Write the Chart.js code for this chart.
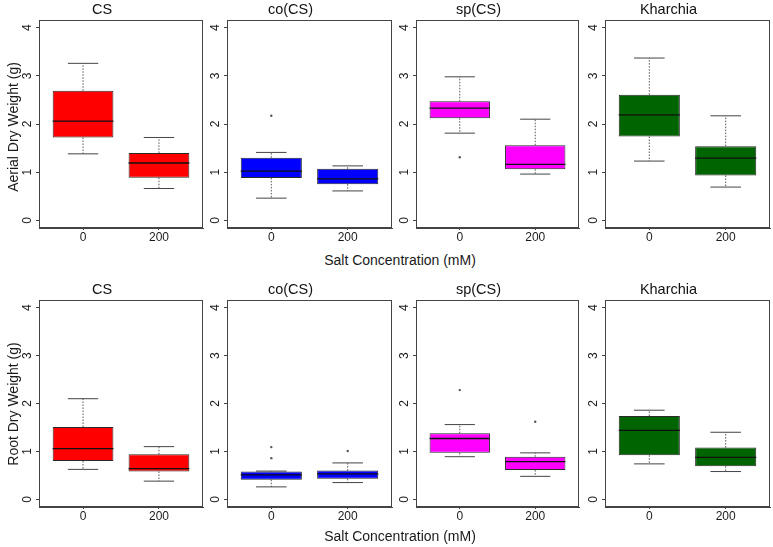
<!DOCTYPE html>
<html><head><meta charset="utf-8">
<script src="https://cdn.jsdelivr.net/npm/chart.js@4/dist/chart.umd.min.js"></script>
<style>
html,body{margin:0;padding:0;background:#fff;}
#wrap{position:relative;width:773px;height:547px;overflow:hidden;font-family:"Liberation Sans",Arial,sans-serif;background:#fff;}
.pc{position:absolute;}
.lbl{position:absolute;font-size:14px;line-height:16px;color:#1a1a1a;white-space:nowrap;transform:translate(-50%,-50%);}
.rot{transform:translate(-50%,-50%) rotate(-90deg);}
</style></head><body><div id="wrap"></div>
<script>
// ---- data ----
const groups = ['CS', 'co(CS)', 'sp(CS)', 'Kharchia'];
const saltLevels = ['0', '200'];
const yTicks = [0, 1, 2, 3, 4];
const groupColors = ['#FF0000', '#0000FF', '#FF00FF', '#006400'];

// Aerial dry weight (g), per group: [0 mM, 200 mM]
const aerialMin    = [[1.38, 0.66], [0.46, 0.61], [1.81, 0.96], [1.23, 0.69]];
const aerialQ1     = [[1.72, 0.885], [0.88, 0.75], [2.12, 1.06], [1.74, 0.93]];
const aerialMedian = [[2.06, 1.19], [1.02, 0.86], [2.33, 1.16], [2.19, 1.29]];
const aerialQ3     = [[2.69, 1.40], [1.30, 1.07], [2.47, 1.56], [2.61, 1.54]];
const aerialMax    = [[3.26, 1.72], [1.41, 1.13], [2.98, 2.10], [3.37, 2.17]];
const aerialOutliers = [[[], []], [[2.17], []], [[1.31], []], [[], []]];

// Root dry weight (g), per group: [0 mM, 200 mM]
const rootMin    = [[0.625, 0.38], [0.26, 0.35], [0.89, 0.48], [0.74, 0.58]];
const rootQ1     = [[0.80, 0.58], [0.41, 0.43], [0.97, 0.61], [0.92, 0.69]];
const rootMedian = [[1.06, 0.64], [0.51, 0.53], [1.27, 0.785], [1.44, 0.875]];
const rootQ3     = [[1.51, 0.94], [0.58, 0.60], [1.38, 0.89], [1.74, 1.08]];
const rootMax    = [[2.10, 1.10], [0.59, 0.76], [1.56, 0.97], [1.86, 1.40]];
const rootOutliers = [[[], []], [[1.09, 0.86], [1.01]], [[2.28], [1.62]], [[], []]];

const rowTitles = ['Aerial Dry Weight (g)', 'Root Dry Weight (g)'];
const xTitle = 'Salt Concentration (mM)';

// ---- layout ----
const plotLeft = [39, 227, 416, 605];
const plotRight = [203, 392, 579, 770];
const rowTop = [20, 300];
const rowBottom = [228, 507];
const M = 38, TITLE_H = 20, XAX_H = 22;

Chart.defaults.font.family = '"Liberation Sans", Arial, sans-serif';
Chart.defaults.color = '#1a1a1a';

const frame = {
  id: 'frame',
  afterDraw(chart) {
    const a = chart.chartArea, ctx = chart.ctx;
    ctx.save();
    ctx.strokeStyle = '#444'; ctx.lineWidth = 1;
    const l = Math.round(a.left) + 0.5, r = Math.round(a.right) - 0.5;
    const t = Math.round(a.top) + 0.5, b = Math.round(a.bottom) - 0.5;
    ctx.strokeRect(l, t, r - l, b - t);
    // rotated y tick labels
    const ys = chart.scales.y;
    ctx.font = '12px "Liberation Sans", Arial, sans-serif';
    ctx.fillStyle = '#1a1a1a'; ctx.textAlign = 'center'; ctx.textBaseline = 'middle';
    ys.ticks.forEach(tk => {
      const py = ys.getPixelForValue(tk.value);
      ctx.save();
      ctx.translate(a.left - 11, py);
      ctx.rotate(-Math.PI / 2);
      ctx.fillText(String(tk.value), 0, 0);
      ctx.restore();
    });
    ctx.restore();
  }
};

function segments(list) {
  const out = [];
  list.forEach((s, i) => {
    if (i) out.push({ x: s[0][0], y: null });
    out.push({ x: s[0][0], y: s[0][1] }, { x: s[1][0], y: s[1][1] });
  });
  return out;
}

function makePanel(row, g) {
  const S = row === 0
    ? { mn: aerialMin, q1: aerialQ1, md: aerialMedian, q3: aerialQ3, mx: aerialMax, out: aerialOutliers }
    : { mn: rootMin, q1: rootQ1, md: rootMedian, q3: rootQ3, mx: rootMax, out: rootOutliers };
  const L = plotLeft[g], R = plotRight[g], T = rowTop[row], B = rowBottom[row];
  const cw = (R - L) + 2 * M, ch = (B - T) + TITLE_H + XAX_H;
  const cv = document.createElement('canvas');
  cv.className = 'pc';
  cv.width = cw; cv.height = ch;
  cv.style.left = (L - M) + 'px'; cv.style.top = (T - TITLE_H) + 'px';
  cv.style.width = cw + 'px'; cv.style.height = ch + 'px';
  document.getElementById('wrap').appendChild(cv);

  const xs = saltLevels.map((_, i) => i + 1);
  const boxData = xs.map((x, i) => ({ x, y: [S.q1[g][i], S.q3[g][i]] }));
  const whisk = [], caps = [], meds = [], outs = [];
  xs.forEach((x, i) => {
    whisk.push([[x, S.q3[g][i]], [x, S.mx[g][i]]], [[x, S.q1[g][i]], [x, S.mn[g][i]]]);
    caps.push([[x - 0.2, S.mx[g][i]], [x + 0.2, S.mx[g][i]]], [[x - 0.2, S.mn[g][i]], [x + 0.2, S.mn[g][i]]]);
    meds.push([[x - 0.4, S.md[g][i]], [x + 0.4, S.md[g][i]]]);
    S.out[g][i].forEach(v => outs.push({ x, y: v }));
  });

  new Chart(cv, {
    type: 'bar',
    data: {
      datasets: [
        { type: 'line', data: segments(meds), borderColor: '#111', borderWidth: 1.3, pointRadius: 0, spanGaps: false, order: 0 },
        { type: 'bar', data: boxData, backgroundColor: groupColors[g], borderColor: '#2a2a2a', borderWidth: 1, borderSkipped: false, barPercentage: 0.8, categoryPercentage: 1, order: 1 },
        { type: 'line', data: segments(whisk), borderColor: '#555', borderWidth: 1, borderDash: [1.5, 1.5], pointRadius: 0, spanGaps: false, order: 2 },
        { type: 'line', data: segments(caps), borderColor: '#444', borderWidth: 1, pointRadius: 0, spanGaps: false, order: 2 },
        { type: 'scatter', data: outs, backgroundColor: '#555', borderWidth: 0, pointRadius: 1.2, order: 0 }
      ]
    },
    options: {
      responsive: false, animation: false, devicePixelRatio: 1, events: [],
      layout: { autoPadding: false, padding: { left: 0, right: M, top: 0, bottom: 0 } },
      plugins: {
        legend: { display: false }, tooltip: { enabled: false },
        title: { display: true, text: groups[g], color: '#111', font: { size: 14.5, weight: 'normal' }, padding: { top: 1.6, bottom: 1 } }
      },
      scales: {
        x: {
          type: 'linear', min: 0.42, max: 2.58, offset: false,
          afterBuildTicks: s => { s.ticks = xs.map(v => ({ value: v })); },
          afterFit: s => { s.height = XAX_H; },
          ticks: { callback: v => saltLevels[v - 1], font: { size: 12 }, color: '#1a1a1a', padding: 0, maxRotation: 0, autoSkip: false },
          grid: { offset: false, drawOnChartArea: false, drawTicks: true, tickLength: 2, color: '#444' },
          border: { display: true, color: '#444' }
        },
        y: {
          type: 'linear', min: -0.16, max: 4.16,
          afterBuildTicks: s => { s.ticks = yTicks.map(v => ({ value: v })); },
          afterFit: s => { s.width = M; },
          ticks: { display: false },
          grid: { drawOnChartArea: false, drawTicks: true, tickLength: 3, color: '#444' },
          border: { display: true, color: '#444' }
        }
      }
    },
    plugins: [frame]
  });
}

for (let r = 0; r < 2; r++) for (let g = 0; g < groups.length; g++) makePanel(r, g);

function addLabel(text, x, y, rot) {
  const d = document.createElement('div');
  d.className = 'lbl' + (rot ? ' rot' : '');
  d.textContent = text;
  d.style.left = x + 'px'; d.style.top = y + 'px';
  document.getElementById('wrap').appendChild(d);
}
addLabel(rowTitles[0], 13, 127, true);
addLabel(rowTitles[1], 13, 404, true);
addLabel(xTitle, 400, 260, false);
addLabel(xTitle, 400, 536, false);
</script>
</body></html>
